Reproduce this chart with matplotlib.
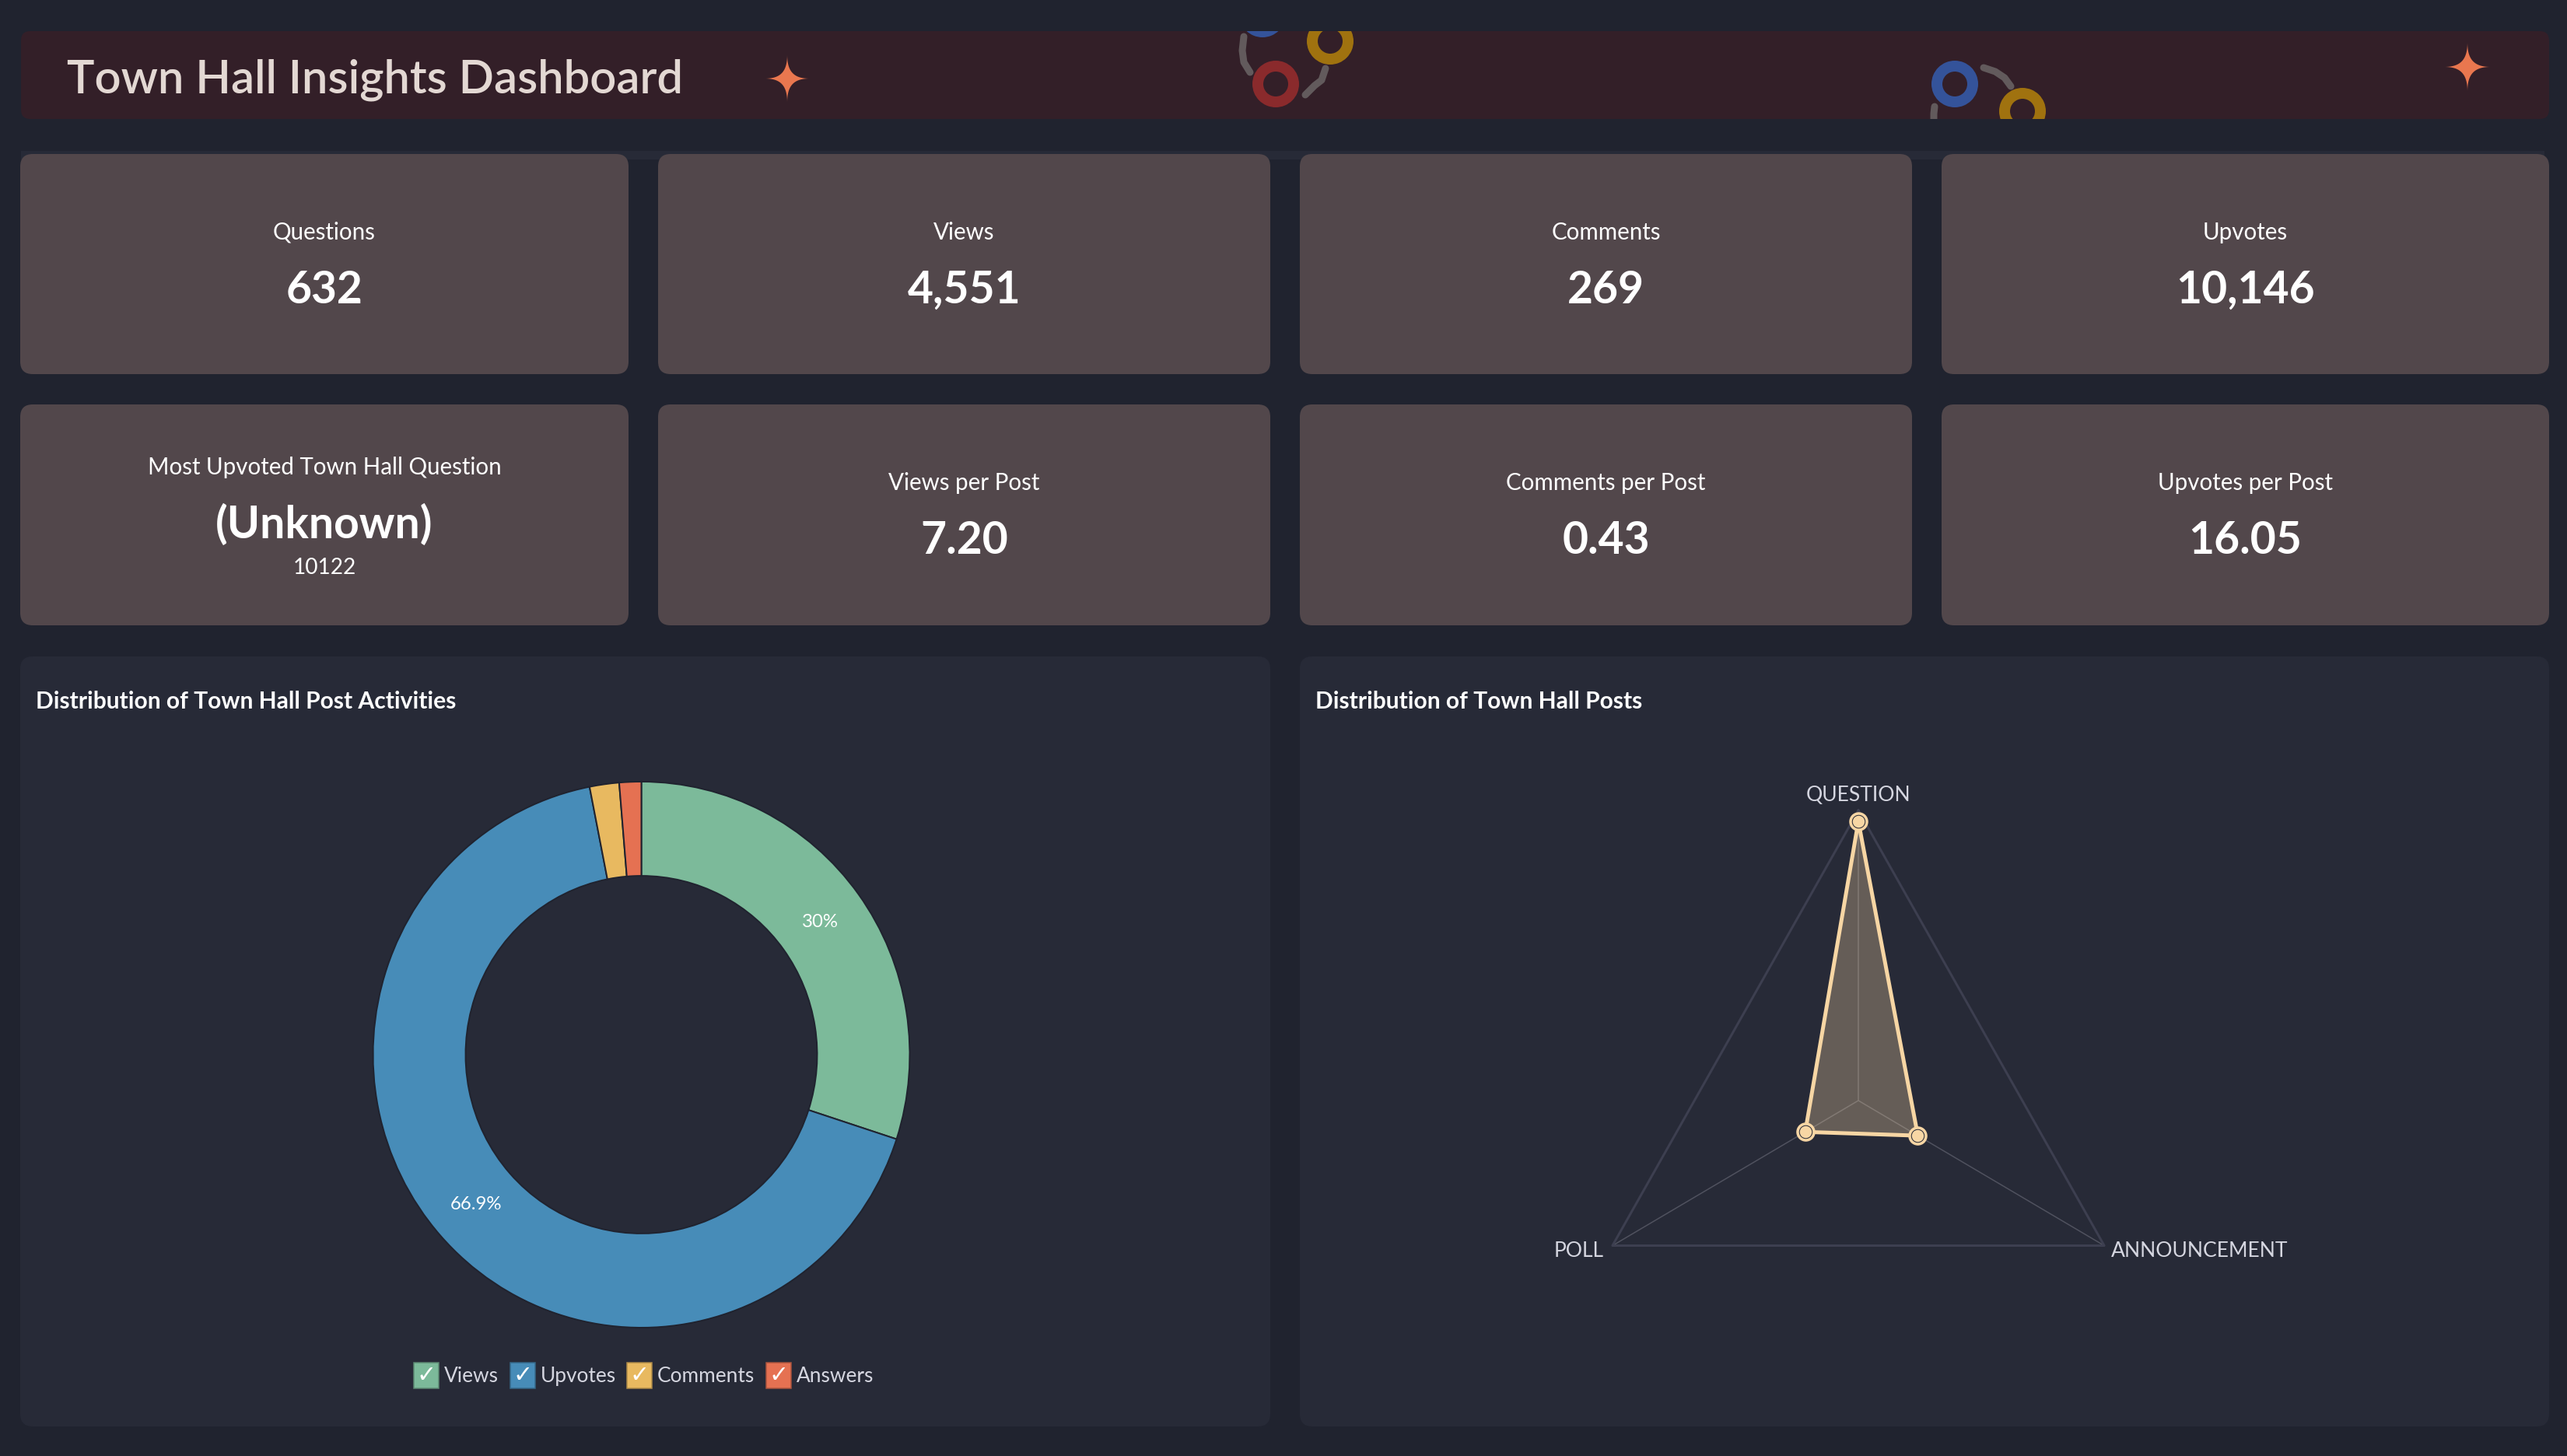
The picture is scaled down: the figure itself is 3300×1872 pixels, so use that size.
#!/usr/bin/env python3
# coding: utf-8

import numpy as np
import matplotlib
matplotlib.use('Agg')
import matplotlib.pyplot as plt
from matplotlib.patches import FancyBboxPatch, Rectangle, Annulus, Polygon

W, H = 3300, 1872

plt.rcParams['font.family'] = ['Lato', 'DejaVu Sans']

# data
title = 'Town Hall Insights Dashboard'
card_labels = ['Questions', 'Views', 'Comments', 'Upvotes',
               'Most Upvoted Town Hall Question', 'Views per Post', 'Comments per Post', 'Upvotes per Post']
card_values = ['632', '4,551', '269', '10,146', '(Unknown)', '7.20', '0.43', '16.05']
top_question_upvotes = '10122'

activity_names = ['Views', 'Upvotes', 'Comments', 'Answers']
activity_values = [4551, 10146, 269, 200]
activity_colors = ['#7cba9a', '#478cb8', '#e8b960', '#e57152']

post_types = ['QUESTION', 'ANNOUNCEMENT', 'POLL']
post_levels = [0.962, 0.242, 0.216]

# colours
PAGE = '#20232f'
PANEL = '#272a37'
HEADER = '#331f28'
CARD = '#52474b'
STAR = '#e9774f'
CREAM = '#f7d6a4'
TICK = '#d5d6e0'


def pt(px):
    return px * 0.72


def px_axes(fig, cx, cy, xunit, yunit, lim):
    # axes placed so one data unit is xunit/yunit pixels around (cx, cy)
    w = 2 * lim * xunit
    h = 2 * lim * yunit
    ax = fig.add_axes([(cx - w / 2) / W, 1 - (cy + h / 2) / H, w / W, h / H])
    ax.set_facecolor('none')
    return ax


def star(ax, cx, cy, a, b):
    t = np.linspace(0, 2 * np.pi, 300)
    x = cx + a * np.sign(np.cos(t)) * np.abs(np.cos(t)) ** 4.2
    y = cy + b * np.sign(np.sin(t)) * np.abs(np.sin(t)) ** 4.2
    ax.add_patch(Polygon(np.column_stack([x, y]), closed=True, fc=STAR, ec='none'))


fig = plt.figure(figsize=(W / 100, H / 100), dpi=100, facecolor=PAGE)

# layout layer in image pixels
bg = fig.add_axes([0, 0, 1, 1])
bg.set_xlim(0, W)
bg.set_ylim(H, 0)
bg.axis('off')

# header band
header = FancyBboxPatch((27, 40), 3250, 113, boxstyle='round,pad=0,rounding_size=12', fc=HEADER, ec='none')
bg.add_patch(header)
bg.text(86, 120, title, fontsize=pt(59.7), color='#e3d8d3', ha='left', va='baseline', fontweight='semibold')
star(bg, 1012, 101, 29, 31)
star(bg, 3172, 86, 30, 32)

# header decoration
for cx, cy, col in [(1623, 18, '#34539a'), (1710, 53, '#a0720f'), (1640, 108, '#8a2a2c'),
                    (2513, 108, '#34539a'), (2600, 143, '#a0720f')]:
    ring = Annulus((cx, cy), 30, 14, fc=col, ec='none')
    bg.add_patch(ring)
    ring.set_clip_path(header)
for xs, ys in [([1599, 1597, 1599, 1607], [47, 65, 80, 93]),
               ([1704, 1699, 1690, 1678], [88, 103, 110, 122]),
               ([2550, 2565, 2577, 2585], [87, 92, 100, 111]),
               ([2487, 2486, 2486], [137, 146, 160])]:
    line, = bg.plot(xs, ys, color='#625a5c', lw=pt(9), solid_capstyle='round')
    line.set_clip_path(header)

# strip behind first card row
bg.add_patch(Rectangle((27, 194), 3244, 11, fc=PANEL, ec='none'))

# stat cards
col_x = [(26, 808), (846, 1633), (1671, 2458), (2496, 3277)]
row_y = [(198, 481), (520, 804)]
for i, (lab, val) in enumerate(zip(card_labels, card_values)):
    x0, x1 = col_x[i % 4]
    y0, y1 = row_y[i // 4]
    xc = (x0 + x1) / 2
    bg.add_patch(FancyBboxPatch((x0, y0), x1 - x0, y1 - y0, boxstyle='round,pad=0,rounding_size=16',
                                fc=CARD, ec='none'))
    if i == 4:
        lab_y, val_y = 610, 692
    else:
        lab_y, val_y = y0 + 110, y0 + 192
    bg.text(xc, lab_y, lab, fontsize=pt(29.5), color='white', ha='center', va='baseline')
    bg.text(xc, val_y, val, fontsize=pt(57), color='white', ha='center', va='baseline', fontweight='bold')
bg.text(417, 738, top_question_upvotes, fontsize=pt(28), color='white', ha='center', va='baseline')

# chart panels
for x0, x1, name in [(26, 1633, 'Distribution of Town Hall Post Activities'),
                     (1671, 3277, 'Distribution of Town Hall Posts')]:
    bg.add_patch(FancyBboxPatch((x0, 844), x1 - x0, 990, boxstyle='round,pad=0,rounding_size=16',
                                fc=PANEL, ec='none'))
    bg.text(x0 + 20, 911, name, fontsize=pt(30), color='white', ha='left', va='baseline', fontweight='bold')

# donut
ax1 = px_axes(fig, 824.5, 1356, 345, 351, 1.1)


def pct_label(p):
    return '%g%%' % round(p, 1) if p > 5 else ''


wedges, _, autotexts = ax1.pie(activity_values, colors=activity_colors, startangle=90, counterclock=False,
                               wedgeprops=dict(width=0.345, edgecolor=PAGE, linewidth=pt(2)),
                               autopct=pct_label, pctdistance=0.825,
                               textprops=dict(color='white', fontsize=pt(24)))
ax1.set_aspect('auto')
ax1.set_xlim(-1.1, 1.1)
ax1.set_ylim(-1.1, 1.1)

# legend row
box_x = [532, 656, 806, 985]
for bx, name, col in zip(box_x, activity_names, activity_colors):
    edge = tuple(0.75 * c for c in matplotlib.colors.to_rgb(col))
    bg.add_patch(Rectangle((bx, 1752), 32, 33, fc=col, ec=edge, lw=pt(1.5)))
    bg.text(bx + 16, 1769, '\u2713', fontsize=pt(30), color='white', ha='center', va='center',
            family='DejaVu Sans')
    bg.text(bx + 39, 1777, name, fontsize=pt(26.3), color=TICK, ha='left', va='baseline')

# radar
ax2 = px_axes(fig, 2389, 1415, 365, 373, 1.25)
ax2.axis('off')
ax2.set_xlim(-1.25, 1.25)
ax2.set_ylim(-1.25, 1.25)

angles = np.arange(len(post_types)) * 2 * np.pi / len(post_types)
rim_x, rim_y = np.sin(angles), np.cos(angles)
for vx, vy in zip(rim_x, rim_y):
    ax2.plot([0, vx], [0, vy], color='#50525f', lw=pt(1.5), zorder=1)
ax2.plot(np.r_[rim_x, rim_x[0]], np.r_[rim_y, rim_y[0]], color='#3d3f50', lw=pt(3), zorder=1)

levels = np.array(post_levels)
px, py = levels * rim_x, levels * rim_y
ax2.fill(px, py, color=CREAM, alpha=0.3, lw=0, zorder=2)
ax2.plot(np.r_[px, px[0]], np.r_[py, py[0]], color=CREAM, lw=pt(5), zorder=3)
ax2.plot(px, py, ls='none', marker='o', ms=pt(21), mfc=PANEL, mec=CREAM, mew=pt(3.5), zorder=4)
ax2.plot(px, py, ls='none', marker='o', ms=pt(15.5), mfc=CREAM, mec='none', zorder=5)

ax2.text(0, 1.02, post_types[0], fontsize=pt(26.5), color=TICK, ha='center', va='bottom')
ax2.text(rim_x[1] + 0.024, rim_y[1] - 0.02, post_types[1], fontsize=pt(26.5), color=TICK, ha='left', va='center')
ax2.text(rim_x[2] - 0.03, rim_y[2] - 0.02, post_types[2], fontsize=pt(26.5), color=TICK, ha='right', va='center')

fig.savefig('out.png', dpi=100, facecolor=PAGE)
